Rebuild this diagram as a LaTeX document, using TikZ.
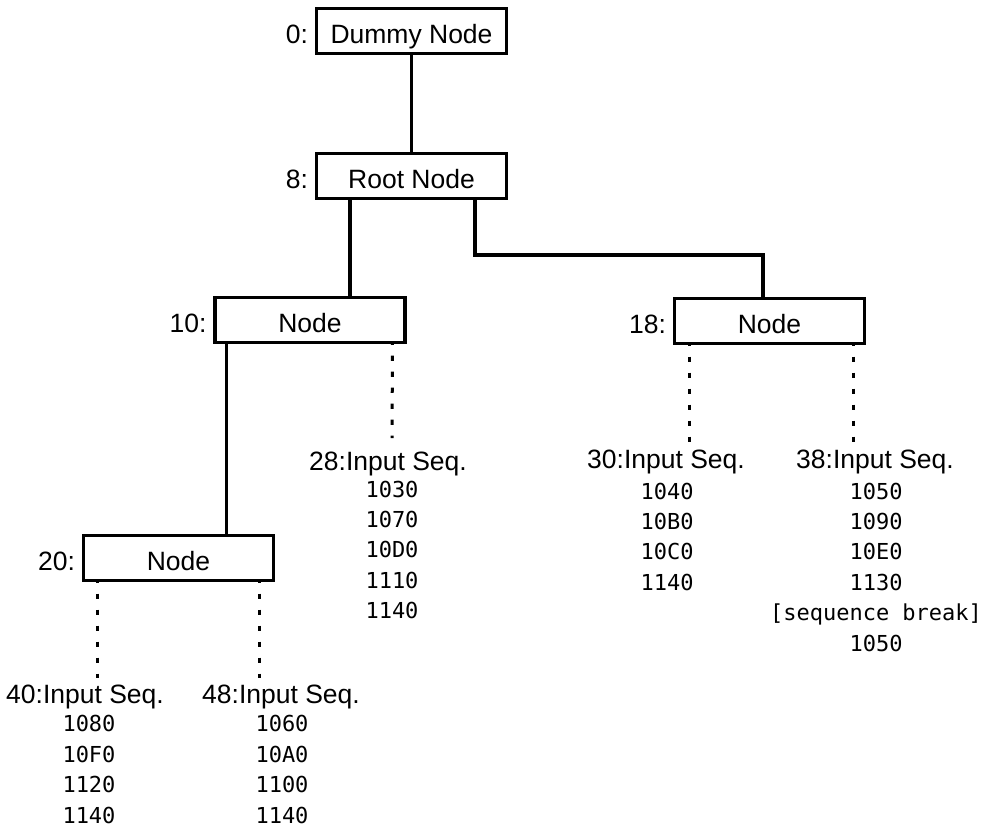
\documentclass[tikz,border=0pt]{standalone}
\usepackage{fontspec}
\setmainfont{Liberation Sans}
\newfontfamily\monofont{DejaVu Sans Mono}
\usetikzlibrary{positioning}
\begin{document}
\begin{tikzpicture}[x=1pt,y=-1pt,
  box/.style={draw, line width=3.5pt, minimum width=190pt, minimum height=45pt, inner sep=0pt, outer sep=0pt, font=\fontsize{26.5}{30}\selectfont, text height=25pt, text depth=0pt},
  idlbl/.style={inner sep=0pt, outer sep=0pt, font=\fontsize{26.5}{30}\selectfont, text height=25pt, text depth=0pt},
  link/.style={line width=3.1pt},
  dotlink/.style={line width=3pt, dash pattern=on 5.3pt off 10.7pt, dash phase=3pt},
  seqlbl/.style={inner sep=0pt, anchor=base, font=\fontsize{26.5}{30}\selectfont},
  seqnum/.style={inner sep=0pt, anchor=base, align=center, font=\monofont\fontsize{22}{30.4}\selectfont}
]
\useasboundingbox (0,0) rectangle (981,828);

% boxes
\node[box] (dummy) at (411.5,31) {Dummy Node};
\node[box] (root) at (411.5,176) {Root Node};
\node[box] (n10) at (310,320) {Node};
\node[box] (n18) at (769.5,321) {Node};
\node[box] (n20) at (178.5,558) {Node};

% address labels
\node[idlbl, left=8.5pt of dummy] (l0) {0:};
\node[idlbl, left=8.5pt of root] (l8) {8:};
\node[idlbl, left=8.5pt of n10] (l10) {10:};
\node[idlbl, left=8.5pt of n18] (l18) {18:};
\node[idlbl, left=8.5pt of n20] (l20) {20:};

% input sequences (number blocks anchored at the baseline of their last line)
\node[seqlbl] (s28) at (388,470) {28:Input Seq.};
\node[seqnum] (v28) at (392,618.6) {1030\\1070\\10D0\\1110\\1140};
\node[seqlbl] (s30) at (666,468) {30:Input Seq.};
\node[seqnum] (v30) at (667,590.2) {1040\\10B0\\10C0\\1140};
\node[seqlbl] (s38) at (875,468) {38:Input Seq.};
\node[seqnum] (v38) at (876,651) {1050\\1090\\10E0\\1130\\{[sequence break]}\\1050};
\node[seqlbl] (s40) at (85,703) {40:Input Seq.};
\node[seqnum] (v40) at (89,823) {1080\\10F0\\1120\\1140};
\node[seqlbl] (s48) at (281,703) {48:Input Seq.};
\node[seqnum] (v48) at (282,823) {1060\\10A0\\1100\\1140};

% solid connectors
\draw[link] (dummy.south) -- (root.north);
\coordinate (r1) at ([xshift=33.5pt]root.south west);
\draw[link] (r1) -- (r1 |- n10.north);
\coordinate (r2) at ([xshift=-31.5pt]root.south east);
\coordinate (bend) at (763,255);
\draw[link] (r2) |- (bend) -- (bend |- n18.north);
\coordinate (r3) at ([xshift=11.5pt]n10.south west);
\draw[link] (r3) -- (r3 |- n20.north);

% dotted connectors
\coordinate (d28) at (392,438);
\coordinate (d30) at (689,442);
\coordinate (d38) at (853,442);
\coordinate (d40) at (97,678);
\coordinate (d48) at (259,678);
\draw[dotlink] ([xshift=-12.5pt]n10.south east) -- (d28);
\draw[dotlink] ([xshift=14.5pt]n18.south west) -- (d30);
\draw[dotlink] ([xshift=-11.5pt]n18.south east) -- (d38);
\draw[dotlink] ([xshift=13.5pt]n20.south west) -- (d40);
\draw[dotlink] ([xshift=-14.5pt]n20.south east) -- (d48);
\end{tikzpicture}
\end{document}
